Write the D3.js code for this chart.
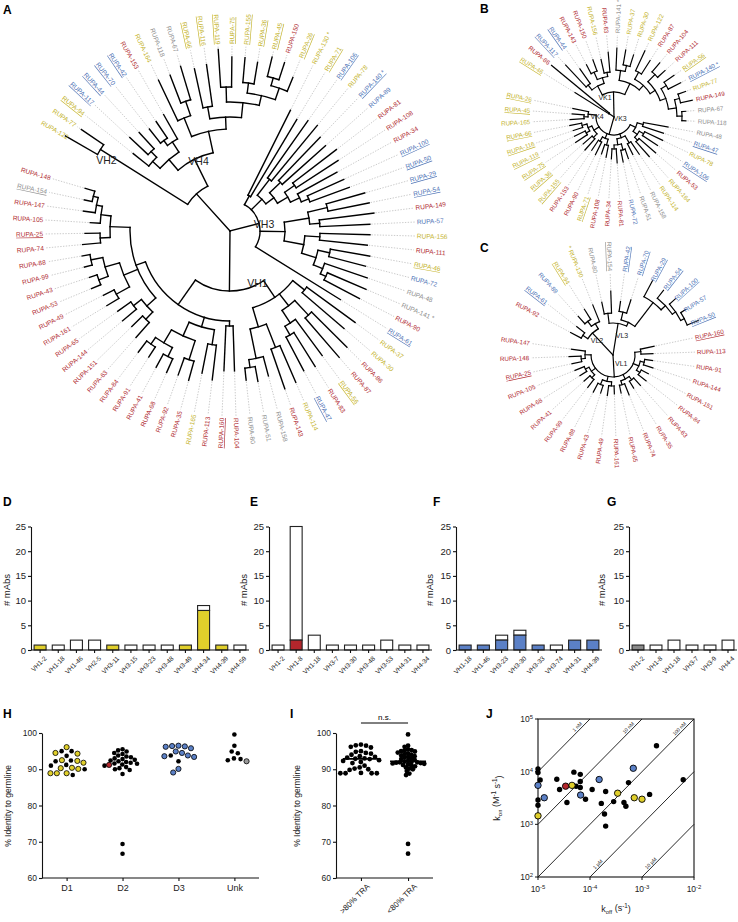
<!DOCTYPE html>
<html><head><meta charset="utf-8">
<script src="https://cdn.jsdelivr.net/npm/d3@7"></script>
<style>body{margin:0;background:#fff}svg{display:block}text{font-family:Arial,"Liberation Sans",Helvetica,sans-serif}</style>
</head><body>
<svg id="fig" width="738" height="922"></svg>
<script>
// ---------------- DATA ----------------
const yellowAbs=["122","77","94","164","66","116","119","75","155","36","45","26","130","71","78","156","46","37","30","56","114","165"];
const blueAbs=["117","44","70","42","106","140","89","100","50","29","54","57","72","61","47"];
const grayAbs=["118","67","48","141","158","51","80","154"];
const underlinedAbs=["94","66","116","119","75","155","36","45","26","71","46","56","117","44","70","42","106","140","100","50","29","54","61","47","154","160","25"];
const starredAbs=["130","140","141"];

const treeA="((((122:37,77:27)VH2:103,(((94:20,(117:25,44:22):8):10,((70:18,42:20):6,153:28):12):14,((164:45,(118:30,67:35):15):20,((66:40,116:42):12,((119:38,75:30):15,((155:25,36:22):10,((45:20,150:18):8,26:15):12):10):15):12):22)VH4:30):50,"+
 "((130:95,71:90):10,((106:70,78:72):20,((140:60,89:58):15,((81:55,108:50):12,(34:45,(100:40,50:42):8):10):12):10):15,(((29:40,54:42):20,(149:55,57:50):10):25,((156:50,111:48):15,((46:40,72:38):12,(48:45,(141:42,90:40):6):10):15):20):25,61:100)VH3:30,"+
 "(((37:60,30:55):15,((86:50,87:52):20,(56:45,(83:40,47:38):10):15):15,((114:40,143:42):25,(158:20,(51:15,80:12):8):30):20):20,"+
 "((104:45,160:45):5,((113:35,165:30):15,((35:20,92:18):20,((68:15,41:15):10,(91:12,84:14):8):15):15):10,(((63:20,151:15):10,(144:18,65:16):10):12,((161:14,49:12):15,((53:10,43:8):10,(99:8,88:8):12):15):15,((74:18,25:15):10,(105:10,(147:12,(154:8,148:10):5):6):10):20):10):30)VH1:60)";
const treeB="((46:40,86:75)VK4:6,"+
 "(((117:30,44:18):6,((143:10,150:12):8,(156:14,83:20):4):6):10,((141:22,(37:15,30:12):6):10,((122:22,87:16):8,((104:12,111:10):10,((56:12,140:14):6,((77:8,149:12):5,(67:4,118:4):5):8):6):6):6):12)VK1:25,"+
 "(((48:25,47:22):6,((78:20,106:18):5,(53:22,164:20):4):5):6,((114:15,158:12):8,((51:10,72:12):6,(81:14,34:10):4):6):4,((108:12,71:10):6,(90:14,153:12):5):5,((155:15,36:12):5,((75:14,119:12):4,(116:10,66:12):5):4):6,((165:14,45:12):4,26:16):8)VK3:18)";
const treeC="(((92:12,61:10):6,((89:10,94:12):6,130:18):6)VL2:30,"+
 "((80:12,154:22):10,((42:10,70:14):8,(29:18,(54:10,(100:8,(57:6,50:12):4):4):6):30):4)VL3:32,"+
 "((160:14,113:12):6,((91:8,144:10):4,(151:8,84:10):4):6,((63:10,35:8):4,(74:12,65:8):4):5,((161:8,49:10):4,(43:8,88:10):5):5,((99:10,41:8):4,(68:8,105:10):4):5,((25:10,148:12):4,147:14):6)VL1:22)";

const catsD=["VH1-2","VH1-18","VH1-46","VH2-5","VH3-11","VH3-15","VH3-23","VH3-48","VH3-49","VH4-34","VH4-39","VH4-59"];
const colD=[1,0,0,0,1,0,0,0,1,8,1,0];
const whiteD=[0,1,2,2,0,1,1,1,0,1,0,1];
const catsE=["VH1-2","VH1-8","VH1-18","VH3-7","VH3-30","VH3-48","VH3-53","VH4-31","VH4-34"];
const colE=[0,2,0,0,0,0,0,0,0];
const whiteE=[1,23,3,1,1,1,2,1,1];
const catsF=["VH1-18","VH1-46","VH3-23","VH3-30","VH3-33","VH3-74","VH4-31","VH4-39"];
const colF=[1,1,2,3,1,0,2,2];
const whiteF=[0,0,1,1,0,1,0,0];
const catsG=["VH1-2","VH1-8","VH1-18","VH3-7","VH3-9","VH4-4"];
const colG=[1,0,0,0,0,0];
const whiteG=[0,1,2,1,1,2];
const barTicks=[0,5,10,15,20,25];

const hCats=["D1","D2","D3","Unk"];
const hD1Yellow=[96.1,94.5,94.3,92.5,92.3,91.8,90.4,90.3,90.1,88.9,88.9,88.9];
const hD1Black=[95.0,95.0,93.7,92.4,92.2,91.2,91.0,90.0,88.4];
const hD2Red=[91.2];
const hD2Black=[95.5,95.2,94.9,94.5,94.2,93.8,93.5,93.3,93.0,92.8,92.6,92.4,92.2,92.0,91.8,91.6,91.5,91.3,91.0,90.6,90.3,90.0,89.8,88.7,69.4,66.7];
const hD3Blue=[96.5,96.4,96.3,96.2,95.8,94.9,94.5,93.8,93.6,93.4,90.1,89.1];
const hD3Black=[93.8,92.2];
const hUnkBlack=[99.6,96.5,94.9,94.4,93.0,92.8,92.5];
const hUnkGray=[92.2];
const identTicks=[60,70,80,90,100];

const iCats=[">80% TRA","<80% TRA"];
const iHigh=[96.8,96.6,96.5,96.2,96.0,95.0,94.8,94.5,94.3,94.0,93.6,93.4,93.2,93.0,92.9,92.8,92.5,92.3,92.0,91.7,91.0,90.5,90.2,90.0,89.8,89.0,88.9,88.9,88.9,88.9];
const iLow=[99.6,96.5,96.2,95.5,95.3,95.2,95.0,94.9,94.6,94.4,94.2,94.0,93.8,93.6,93.4,93.2,93.0,92.8,92.6,92.3,92.1,92.0,91.9,91.9,91.8,91.7,91.6,91.5,91.3,91.2,91.0,90.8,90.5,90.2,90.0,89.5,88.8,88.4,69.4,66.7];

const jBlackKoff=[1e-5,1e-5,1.1e-5,1e-5,1e-5,2.3e-5,2.6e-5,3.6e-5,4.9e-5,5.4e-5,6.5e-5,6.5e-5,6.5e-5,8.2e-5,1.1e-4,1.65e-4,2.0e-4,1.9e-4,2.0e-4,2.85e-4,4.5e-4,4.9e-4,5.5e-4,1.4e-3,1.9e-3,6.2e-3];
const jBlackKon=[1.12e4,9.6e3,6.97e3,2.9e3,2.3e3,7.2e3,4.6e3,2.6e3,9.8e3,5.3e3,8.9e3,6.5e3,5.0e3,3.0e3,4.6e3,2.5e3,4.2e3,1.57e3,925,2.7e3,2.6e3,2.2e3,6.2e3,3.7e3,3.1e4,7.0e3];
const jBlueKoff=[1e-5,1.32e-5,6.6e-5,1.5e-4,6.8e-4];
const jBlueKon=[5.5e3,3.2e3,3.6e3,7.1e3,1.16e4];
const jYellowKoff=[1e-5,4.5e-5,3.4e-4,7.1e-4,1.0e-3];
const jYellowKon=[1.45e3,5.5e3,3.9e3,3.2e3,3.0e3];
const jRedKoff=[3.4e-5];
const jRedKon=[5.3e3];
const kdValues=[1e-9,1e-8,1e-7,1e-6,1e-5];
const kdLabels=["1 nM","10 nM","100 nM","1 \u00b5M","10 \u00b5M"];
const jTicks=[1e-5,1e-4,1e-3,1e-2];
const jYTicks=[1e2,1e3,1e4,1e5];

// ---------------- STYLE ----------------
const TXT={red:"#b02a30",yellow:"#c3b22a",blue:"#4d72b5",gray:"#8e8e8e"};
const FILL={red:"#b3262c",yellow:"#e0cf2b",blue:"#5b80c6",gray:"#8a8a8a"};
const svg=d3.select("#fig");

function abClass(n){return yellowAbs.includes(n)?"yellow":blueAbs.includes(n)?"blue":grayAbs.includes(n)?"gray":"red";}

function parseNewick(str){
  const s=str.replace(/\s+/g,"");let i=0;
  function node(){
    const n={name:"",len:0,children:[]};
    if(s[i]==="("){i++;n.children.push(node());while(s[i]===","){i++;n.children.push(node());}i++;}
    let name="";while(i<s.length&&":,()".indexOf(s[i])<0)name+=s[i++];n.name=name;
    if(s[i]===":"){i++;let num="";while(i<s.length&&",()".indexOf(s[i])<0)num+=s[i++];n.len=+num;}
    return n;
  }
  return node();
}

function drawTree(o){
  const root=d3.hierarchy(parseNewick(o.newick),d=>d.children.length?d.children:null);
  const rs=d3.scaleLinear().domain([0,100]).range([0,100*o.k]);
  root.each(d=>{d.r=d.parent?d.parent.r+rs(d.data.len):0;});
  const leaves=root.leaves();
  const as=d3.scaleLinear().domain([0,leaves.length-1]).range([o.start,o.start+(leaves.length-1)*o.step]);
  leaves.forEach((d,i)=>d.a=as(i));
  root.eachAfter(d=>{if(d.children){d.a=(d.children[0].a+d.children[d.children.length-1].a)/2;}});
  const P=(r,a)=>{const t=a*Math.PI/180;return [r*Math.sin(t),-r*Math.cos(t)];};
  const g=svg.append("g").attr("transform",`translate(${o.cx},${o.cy})`);
  g.append("g").selectAll("path").data(leaves.filter(d=>d.r<o.R-3)).join("path")
    .attr("d",d=>{const a=P(d.r+1.5,d.a),b=P(o.R-2,d.a);return `M${a}L${b}`;})
    .attr("stroke","#a8a8a8").attr("stroke-width",0.6).attr("stroke-dasharray","1.4,1.4").attr("fill","none");
  const tree=g.append("g").attr("fill","none").attr("stroke","#000").attr("stroke-width",o.sw).attr("stroke-linecap","square");
  tree.selectAll("path.e").data(root.descendants().filter(d=>d.parent)).join("path").attr("class","e")
    .attr("d",d=>`M${P(d.parent.r,d.a)}L${P(d.r,d.a)}`);
  tree.selectAll("path.a").data(root.descendants().filter(d=>d.children&&d.r>0)).join("path").attr("class","a")
    .attr("d",d=>{const a0=d.children[0].a,a1=d.children[d.children.length-1].a;
      return `M${P(d.r,a0)}A${d.r},${d.r} 0 ${a1-a0>180?1:0} 1 ${P(d.r,a1)}`;});
  const isRight=d=>{const a=((d.a%360)+360)%360;return a>=o.split&&a<o.split+180;};
  g.append("g").selectAll("text").data(leaves).join("text")
    .attr("font-size",o.fs).attr("dy","0.35em")
    .attr("fill",d=>TXT[abClass(d.data.name)])
    .attr("text-decoration",d=>underlinedAbs.includes(d.data.name)?"underline":null)
    .attr("transform",d=>{const p=P(o.R,d.a);const a=((d.a%360)+360)%360;return `translate(${p}) rotate(${isRight(d)?a-90:a+90})`;})
    .attr("text-anchor",d=>isRight(d)?"start":"end")
    .text(d=>{const st=starredAbs.includes(d.data.name);const t="RUPA-"+d.data.name;return st?(isRight(d)?t+" *":"* "+t):t;});
  root.descendants().filter(d=>d.data.name&&d.children).forEach(d=>{
    const off=o.clade[d.data.name]||[0,0];const p=P(d.r,d.a);
    g.append("text").attr("x",p[0]+off[0]).attr("y",p[1]+off[1]).attr("font-size",o.cfs).attr("fill","#222").attr("text-anchor","middle").text(d.data.name);
  });
}

drawTree({newick:treeA,cx:230,cy:231,R:187,k:1,start:300,step:4.33,fs:6.5,sw:1.4,split:0,cfs:10.5,
  clade:{VH2:[6,14],VH4:[4,6],VH3:[5,5],VH1:[28,-4]}});
drawTree({newick:treeB,cx:614,cy:117,R:84,k:1,start:302,step:7.55,fs:6.2,sw:1.2,split:0,cfs:7,
  clade:{VK4:[-12,5],VK1:[-8.5,7.5],VK3:[11,-13]}});
drawTree({newick:treeC,cx:613,cy:355,R:84,k:1,start:298,step:10,fs:6.2,sw:1.2,split:0,cfs:7,
  clade:{VL2:[4.5,10],VL3:[4,14.5],VL1:[7,-11]}});

const letters=[["A",3,14],["B",480,13],["C",480,252],["D",3,506],["E",250,506],["F",433,506],["G",607,506],["H",3,718],["I",290,718],["J",486,718]];
svg.selectAll("text.pl").data(letters).join("text").attr("class","pl").attr("x",d=>d[1]).attr("y",d=>d[2])
  .attr("font-size",12).attr("font-weight","bold").text(d=>d[0]);

function styleAxis(sel){sel.selectAll("path,line").attr("stroke","#111").attr("stroke-width",1.1);sel.selectAll("text").attr("fill","#222");}
function drawBars(o){
  const x=d3.scaleBand().domain(o.cats).range([o.x0,o.x1]).paddingInner(0.34).paddingOuter(0.17);
  const y=d3.scaleLinear().domain([0,25]).range([650,526.5]);
  const g=svg.append("g");
  const data=o.cats.map((c,i)=>({c,col:o.col[i],wh:o.white[i]}));
  g.selectAll("rect.w").data(data.filter(d=>d.wh>0)).join("rect").attr("x",d=>x(d.c)).attr("width",x.bandwidth())
    .attr("y",d=>y(d.col+d.wh)).attr("height",d=>y(d.col)-y(d.col+d.wh)).attr("fill","#fff").attr("stroke","#222").attr("stroke-width",1.1);
  g.selectAll("rect.c").data(data.filter(d=>d.col>0)).join("rect").attr("x",d=>x(d.c)).attr("width",x.bandwidth())
    .attr("y",d=>y(d.col)).attr("height",d=>y(0)-y(d.col)).attr("fill",o.fill).attr("stroke","#222").attr("stroke-width",1.1);
  const ya=g.append("g").attr("transform",`translate(${o.x0},0)`).call(d3.axisLeft(y).tickValues(barTicks).tickSize(3).tickPadding(2).tickSizeOuter(0));
  ya.selectAll("text").attr("font-size",9.5);styleAxis(ya);
  const xa=g.append("g").attr("transform","translate(0,650)").call(d3.axisBottom(x).tickSize(3).tickSizeOuter(0).tickPadding(2));
  xa.select(".domain").attr("d",`M${o.x0},0H${o.x1}`);
  xa.selectAll("text").attr("font-size",6.5).attr("text-anchor","end").attr("dy","0.3em").attr("transform","translate(2,4) rotate(-45)");
  styleAxis(xa);
  g.append("text").attr("transform",`translate(${o.yl},590) rotate(-90)`).attr("text-anchor","middle").attr("font-size",9.5).attr("fill","#222").text("# mAbs");
}
drawBars({cats:catsD,col:colD,white:whiteD,x0:31,x1:249,fill:FILL.yellow,yl:10});
drawBars({cats:catsE,col:colE,white:whiteE,x0:269,x1:432,fill:FILL.red,yl:247});
drawBars({cats:catsF,col:colF,white:whiteF,x0:456,x1:602,fill:FILL.blue,yl:433});
drawBars({cats:catsG,col:colG,white:whiteG,x0:629,x1:737,fill:FILL.gray,yl:605});

function swarm(vals,y,d2){
  const pts=vals.map(v=>({v,y:y(v.v)})).sort((a,b)=>a.y-b.y);const placed=[];
  pts.forEach(p=>{
    const cands=[0];
    placed.forEach(q=>{const dy=Math.abs(q.y-p.y);if(dy<d2){const dx=Math.sqrt(d2*d2-dy*dy);cands.push(q.x+dx,q.x-dx);}});
    cands.sort((a,b)=>Math.abs(a)-Math.abs(b)||a-b);
    for(const c of cands){if(placed.every(q=>Math.hypot(q.x-c,q.y-p.y)>=d2-0.01)){p.x=c;break;}}
    placed.push(p);
  });
  return placed;
}

// ---------- Panel H ----------
(function(){
  const y=d3.scaleLinear().domain([60,100]).range([878,733]);
  const x=d3.scalePoint().domain(hCats).range([42,259]).padding(0.44);
  const g=svg.append("g");
  const ya=g.append("g").attr("transform","translate(42,0)").call(d3.axisLeft(y).tickValues(identTicks).tickSize(3).tickPadding(2).tickSizeOuter(0));
  ya.selectAll("text").attr("font-size",8.5);styleAxis(ya);
  const xa=g.append("g").attr("transform","translate(0,878)").call(d3.axisBottom(x).tickSize(3).tickPadding(4).tickSizeOuter(0));
  xa.select(".domain").attr("d","M42,0H259");xa.selectAll("text").attr("font-size",9);styleAxis(xa);
  g.append("text").attr("transform","translate(11,806) rotate(-90)").attr("text-anchor","middle").attr("font-size",8.5).attr("fill","#222").text("% Identity to germline");
  const groups=[["D1",hD1Black,"#000"],["D1",hD1Yellow,FILL.yellow],["D2",hD2Black,"#000"],["D2",hD2Red,FILL.red],["D3",hD3Black,"#000"],["D3",hD3Blue,FILL.blue],["Unk",hUnkBlack,"#000"],["Unk",hUnkGray,"#999"]];
  const spacing={D1:6.4,D2:4.6,D3:6.4,Unk:6.4};
  hCats.forEach(cat=>{
    const vals=[];groups.filter(gr=>gr[0]===cat).forEach(gr=>gr[1].forEach(v=>vals.push({v,c:gr[2]})));
    const pts=swarm(vals,y,spacing[cat]);
    pts.sort((a,b)=>(a.v.c==="#000"?0:1)-(b.v.c==="#000"?0:1));
    g.selectAll(null).data(pts).join("circle").attr("cx",d=>x(cat)+d.x).attr("cy",d=>d.y).attr("r",d=>d.v.c==="#000"?2.3:2.6)
      .attr("fill",d=>d.v.c).attr("stroke","#000").attr("stroke-width",d=>d.v.c==="#000"?0:0.8);
  });
})();

// ---------- Panel I ----------
(function(){
  const y=d3.scaleLinear().domain([60,100]).range([878,733]);
  const x=d3.scalePoint().domain(iCats).range([336,433]).padding(0.53);
  const g=svg.append("g");
  const ya=g.append("g").attr("transform","translate(336,0)").call(d3.axisLeft(y).tickValues(identTicks).tickSize(3).tickPadding(2).tickSizeOuter(0));
  ya.selectAll("text").attr("font-size",8.5);styleAxis(ya);
  const xa=g.append("g").attr("transform","translate(0,878)").call(d3.axisBottom(x).tickSize(3).tickPadding(3).tickSizeOuter(0));
  xa.select(".domain").attr("d","M336,0H433");
  xa.selectAll("text").attr("font-size",8).attr("text-anchor","end").attr("dy","0.3em").attr("transform","translate(3,3) rotate(-45)");
  styleAxis(xa);
  g.append("text").attr("transform","translate(300,806) rotate(-90)").attr("text-anchor","middle").attr("font-size",8.5).attr("fill","#222").text("% Identity to germline");
  [[iCats[0],iHigh,5.2],[iCats[1],iLow,3.6]].forEach(([cat,vals,dd])=>{
    const pts=swarm(vals.map(v=>({v})),y,dd);
    g.selectAll(null).data(pts).join("circle").attr("cx",d=>x(cat)+d.x).attr("cy",d=>d.y).attr("r",2.4).attr("fill","#000");
    const m=d3.median(vals);
    g.append("line").attr("x1",x(cat)-18).attr("x2",x(cat)+18).attr("y1",y(m)).attr("y2",y(m)).attr("stroke","#000").attr("stroke-width",1.6);
  });
  g.append("line").attr("x1",x(iCats[0])).attr("x2",x(iCats[1])).attr("y1",723).attr("y2",723).attr("stroke","#000").attr("stroke-width",1);
  g.append("text").attr("x",(x(iCats[0])+x(iCats[1]))/2).attr("y",720).attr("text-anchor","middle").attr("font-size",8).text("n.s.");
})();

// ---------- Panel J ----------
(function(){
  const x=d3.scaleLog().domain([1e-5,1e-2]).range([538,694]);
  const y=d3.scaleLog().domain([1e2,1e5]).range([877,719]);
  const g=svg.append("g");
  g.append("rect").attr("x",538).attr("y",719).attr("width",156).attr("height",158).attr("fill","none").attr("stroke","#111").attr("stroke-width",1.1);
  const sup=(sel,base,exp)=>{sel.append("tspan").text(base);sel.append("tspan").attr("dy","-0.45em").attr("font-size","0.7em").text(exp);};
  g.selectAll(null).data(jTicks).join("line").attr("x1",d=>x(d)).attr("x2",d=>x(d)).attr("y1",877).attr("y2",880).attr("stroke","#111");
  g.selectAll(null).data(jYTicks).join("line").attr("x1",535).attr("x2",538).attr("y1",d=>y(d)).attr("y2",d=>y(d)).attr("stroke","#111");
  jTicks.forEach(t=>{const tx=g.append("text").attr("x",x(t)).attr("y",892).attr("text-anchor","middle").attr("font-size",8.5).attr("fill","#222");sup(tx,"10",String(Math.round(Math.log10(t))));});
  jYTicks.forEach(t=>{const tx=g.append("text").attr("x",533).attr("y",y(t)+3).attr("text-anchor","end").attr("font-size",8.5).attr("fill","#222");sup(tx,"10",String(Math.round(Math.log10(t))));});
  kdValues.forEach((kd,i)=>{
    const k0=Math.max(1e-5,1e2*kd),k1=Math.min(1e-2,1e5*kd);
    g.append("line").attr("x1",x(k0)).attr("y1",y(k0/kd)).attr("x2",x(k1)).attr("y2",y(k1/kd)).attr("stroke","#111").attr("stroke-width",0.9);
    const top=i<3;const kk=top?k1/Math.pow(10,0.12):k0*Math.pow(10,0.12);
    g.append("text").attr("transform",`translate(${x(kk)},${y(kk/kd)}) rotate(-45)`).attr("dy",-1.8).attr("text-anchor",top?"end":"start")
      .attr("font-size",5).attr("fill","#222").text(kdLabels[i]);
  });
  const sets=[[jBlackKoff,jBlackKon,"#000"],[jBlueKoff,jBlueKon,FILL.blue],[jYellowKoff,jYellowKon,FILL.yellow],[jRedKoff,jRedKon,FILL.red]];
  sets.forEach(([ko,kn,c])=>{
    g.selectAll(null).data(ko.map((v,i)=>[v,kn[i]])).join("circle").attr("cx",d=>x(d[0])).attr("cy",d=>y(d[1]))
      .attr("r",c==="#000"?2.7:3.2).attr("fill",c).attr("stroke","#000").attr("stroke-width",c==="#000"?0:0.9);
  });
  const xl=g.append("text").attr("x",616).attr("y",912).attr("text-anchor","middle").attr("font-size",9).attr("fill","#222");
  xl.append("tspan").text("k");xl.append("tspan").attr("dy","0.3em").attr("font-size","0.65em").text("off");xl.append("tspan").attr("dy","-0.3em").text(" (s");
  xl.append("tspan").attr("dy","-0.45em").attr("font-size","0.7em").text("-1");xl.append("tspan").attr("dy","0.45em").text(")");
  const yl=g.append("text").attr("transform","translate(500,798) rotate(-90)").attr("text-anchor","middle").attr("font-size",9).attr("fill","#222");
  yl.append("tspan").text("k");yl.append("tspan").attr("dy","0.3em").attr("font-size","0.65em").text("on");yl.append("tspan").attr("dy","-0.3em").text(" (M");
  yl.append("tspan").attr("dy","-0.45em").attr("font-size","0.7em").text("-1");yl.append("tspan").attr("dy","0.45em").text(" s");
  yl.append("tspan").attr("dy","-0.45em").attr("font-size","0.7em").text("-1");yl.append("tspan").attr("dy","0.45em").text(")");
})();
</script>
</body></html>
